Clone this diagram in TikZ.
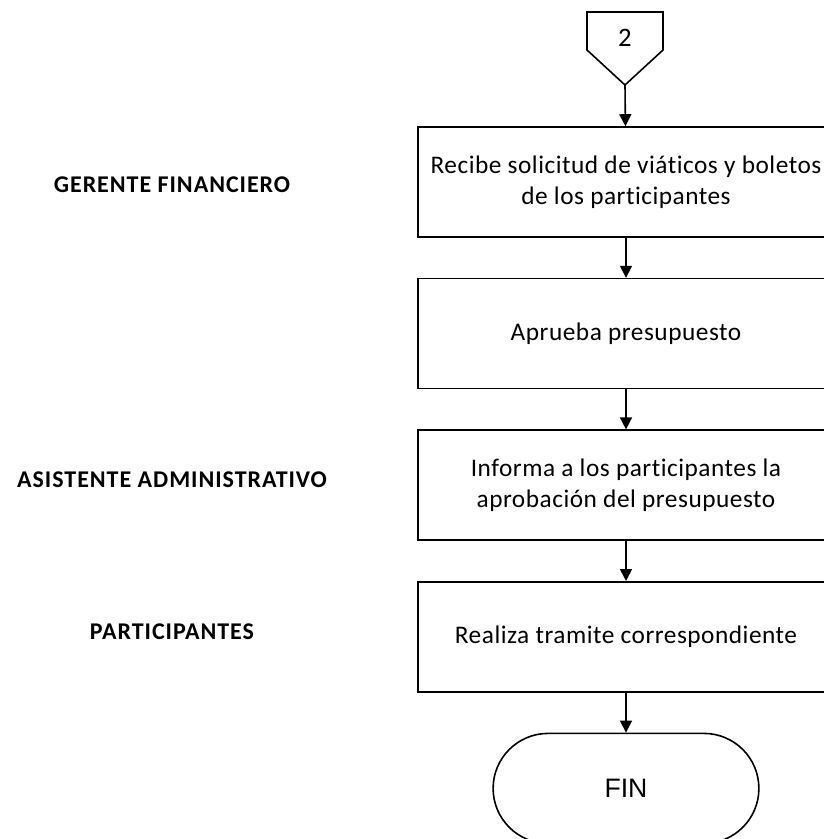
\documentclass[tikz,border=0pt]{standalone}
\usepackage{fontspec}
\setmainfont{Carlito}
\newfontfamily\cajafont[LetterSpace=2,Ligatures=NoCommon]{Carlito}
\newfontfamily\cargofont[LetterSpace=4,Ligatures=NoCommon]{Carlito}
\newfontfamily\arialfont{Liberation Sans}
\usetikzlibrary{positioning,arrows.meta,shapes.misc}
\begin{document}
\begin{tikzpicture}[x=0.75pt,y=-0.75pt,
			node distance=30pt,
			line width=1.2pt,
			flecha/.style={-{Triangle[length=9pt,width=9pt]}},
			proceso/.style={shape=rectangle, draw, align=center, minimum width=312pt, minimum height=82.5pt,
				font=\cajafont\fontsize{19}{23}\selectfont},
			fin/.style={shape=rounded rectangle, draw, minimum width=206pt, minimum height=82.5pt,
				font=\arialfont\fontsize{20}{24}\selectfont},
			cargo/.style={font=\cargofont\bfseries\fontsize{18}{21}\selectfont}]
			
			\useasboundingbox (0,0) rectangle (824,839);
			\clip (0,0) rectangle (824,839);
			
			\draw (587,12) -- (663,12) -- (663,50) -- (625,85) -- (587,50) -- cycle;
			\node[font=\cajafont\fontsize{20}{24}\selectfont] (conector) at (625,38) {2};
			\coordinate (punta) at (625,85);
			
			\node[proceso] (recibe) at (626,182) {Recibe solicitud de viáticos y boletos\\de los participantes};
			\node[proceso, below=of recibe] (aprueba) {Aprueba presupuesto};
			\node[proceso, below=of aprueba] (informa) {Informa a los participantes la\\aprobación del presupuesto};
			\node[proceso, below=of informa] (realiza) {Realiza tramite correspondiente};
			\node[fin, below=of realiza] (final) {FIN};
			
			\node[cargo] (gerente) at (172,185) {GERENTE FINANCIERO};
			\node[cargo] (asistente) at (172,480) {ASISTENTE ADMINISTRATIVO};
			\node[cargo] (participantes) at (172,632) {PARTICIPANTES};
			
			\draw[flecha] (punta) -- (recibe);
			\draw[flecha] (recibe) -- (aprueba);
			\draw[flecha] (aprueba) -- (informa);
			\draw[flecha] (informa) -- (realiza);
			\draw[flecha] (realiza) -- (final);
			\end{tikzpicture}
\end{document}
